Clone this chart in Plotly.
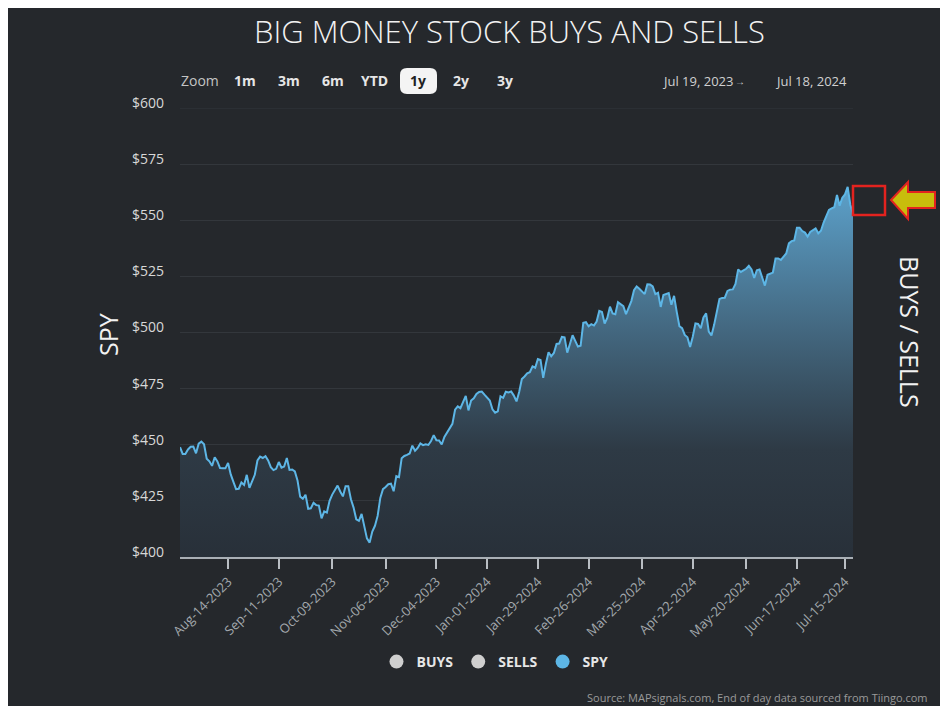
import pandas as pd
import plotly.graph_objects as go

# SPY daily closes (end of day, dividend adjusted), one list per month
jul_2023 = [448.9, 445.9, 445.9, 447.9, 449.1, 449.2, 446.2, 450.5, 451.4]
aug_2023 = [450.2, 443.8, 442.6, 440.6, 444.4, 442.6, 439.6, 439.5, 439.5, 441.9, 436.8, 433.5,
            430.2, 430.4, 433.2, 432.1, 436.6, 430.8, 433.9, 436.6, 443.0, 444.7, 444.1]
sep_2023 = [444.9, 443.0, 440.0, 438.7, 439.3, 442.3, 439.8, 440.3, 444.1, 438.8, 439.0, 438.1,
            434.1, 426.9, 425.9, 427.7, 421.5, 421.7, 424.1, 423.1]
oct_2023 = [422.9, 417.2, 420.3, 419.8, 425.0, 427.8, 430.0, 431.8, 429.2, 427.0, 431.5, 431.5,
            425.7, 422.0, 416.8, 416.1, 419.2, 413.3, 408.3, 406.4, 411.3, 413.9]
nov_2023 = [418.3, 426.3, 430.2, 431.2, 432.4, 432.7, 429.3, 436.0, 435.6, 444.0, 445.0, 445.5,
            446.1, 449.6, 447.3, 448.6, 450.6, 449.8, 450.2, 449.9, 451.7]
dec_2023 = [454.3, 452.0, 451.9, 450.1, 453.5, 455.4, 457.2, 459.3, 465.6, 467.1, 466.3, 469.0,
            471.8, 465.3, 469.7, 470.7, 472.6, 473.5, 473.7, 472.3]
jan_2024 = [469.7, 465.8, 464.3, 464.9, 471.6, 470.9, 473.6, 473.3, 473.7, 471.9, 469.3, 473.5,
            479.3, 480.4, 481.8, 482.3, 484.9, 484.3, 488.2, 487.8, 479.8]
feb_2024 = [486.1, 491.2, 489.4, 490.9, 494.9, 495.1, 498.0, 497.8, 491.0, 495.4, 498.8, 496.3,
            493.7, 494.1, 504.3, 504.6, 502.8, 503.7, 503.1, 504.9]
mar_2024 = [509.6, 509.1, 504.0, 506.5, 511.5, 508.5, 508.1, 513.5, 512.7, 511.7, 508.2, 511.2,
            514.0, 518.8, 520.5, 519.5, 518.1, 517.1, 521.5, 521.4]
apr_2024 = [520.5, 517.1, 517.7, 511.4, 516.7, 517.0, 517.6, 512.4, 516.3, 509.2, 502.8, 501.9,
            498.9, 497.9, 493.6, 498.1, 504.0, 503.8, 501.9, 506.7, 508.5, 500.4]
may_2024 = [498.7, 503.4, 509.6, 514.9, 515.4, 515.5, 518.5, 519.1, 519.2, 521.6, 528.1, 527.0,
            527.7, 528.4, 529.7, 528.1, 524.3, 527.7, 528.1, 524.4, 520.9, 525.7]
jun_2024 = [526.1, 526.7, 533.0, 533.0, 532.3, 534.0, 535.2, 539.7, 540.7, 541.0, 546.7, 546.7,
            545.2, 544.5, 542.7, 544.8, 545.5, 546.4, 544.2]
jul_2024 = [545.3, 549.0, 551.5, 554.6, 555.3, 555.8, 561.3, 556.5, 560.0, 561.5, 564.9, 556.9, 552.7]

# market holidays (no trading)
holidays = ["2023-09-04", "2023-11-23", "2023-12-25", "2024-01-01", "2024-01-15",
            "2024-02-19", "2024-03-29", "2024-05-27", "2024-06-19", "2024-07-04"]

tick_dates = ["2023-08-14", "2023-09-11", "2023-10-09", "2023-11-06", "2023-12-04", "2024-01-01",
              "2024-01-29", "2024-02-26", "2024-03-25", "2024-04-22", "2024-05-20", "2024-06-17",
              "2024-07-15"]

y_ticks = [400, 425, 450, 475, 500, 525, 550, 575, 600]
zoom_buttons = ["1m", "3m", "6m", "YTD", "1y", "2y", "3y"]
zoom_button_x = [237, 281, 325, 366, 410, 453, 497]

spy = (jul_2023 + aug_2023 + sep_2023 + oct_2023 + nov_2023 + dec_2023 + jan_2024 + feb_2024
       + mar_2024 + apr_2024 + may_2024 + jun_2024 + jul_2024)
dates = pd.bdate_range("2023-07-19", "2024-07-18", freq="C", holidays=holidays)

BG = "#25282c"
GRID = "#33373c"
FONT = "Open Sans"
W, H = 932, 698
L, R, T, B = 172, 845, 100, 549


def px(x):
    return (x - L) / (R - L)


def py(y):
    return (B - y) / (B - T)


fig = go.Figure()
fig.add_trace(go.Scatter(
    x=dates, y=spy, mode="lines", name="SPY", showlegend=False,
    line=dict(color="#5db6e6", width=2),
    fill="tozeroy",
    fillgradient=dict(type="vertical", start=400, stop=565,
                      colorscale=[[0, "#283039"], [0.29, "#2e3a45"], [0.61, "#43677f"],
                                  [0.97, "#5a9cc4"], [1, "#5c9fc8"]]),
))
for name, color in [("BUYS", "#cfcfcf"), ("SELLS", "#cfcfcf"), ("SPY", "#5db6e6")]:
    fig.add_trace(go.Scatter(x=[None], y=[None], mode="markers", name=name,
                             marker=dict(color=color, size=14)))

annotations = [
    dict(text="BIG MONEY STOCK BUYS AND SELLS", x=px(501), y=py(23),
         font=dict(size=31, color="#f2f2f2", family=FONT, weight=300)),
    dict(text="Zoom", x=px(192), y=py(73), font=dict(size=14, color="#c4c4c4")),
    dict(text="Jul 19, 2023", x=px(689), y=py(73), font=dict(size=13, color="#d0d0d0")),
    dict(text="→", x=px(732), y=py(73), font=dict(size=10, color="#d0d0d0")),
    dict(text="Jul 18, 2024", x=px(803), y=py(73), font=dict(size=13, color="#d0d0d0")),
    dict(text="SPY", x=px(100), y=py(327), textangle=-90, font=dict(size=25, color="#f2f2f2")),
    dict(text="BUYS / SELLS", x=px(902), y=py(324), textangle=90,
         font=dict(size=25, color="#f2f2f2")),
    dict(text="Source: MAPsignals.com, End of day data sourced from Tiingo.com",
         x=px(922), y=py(689), xanchor="right", font=dict(size=11, color="#9a9a9a")),
]
for label, bx in zip(zoom_buttons, zoom_button_x):
    annotations.append(dict(text=label, x=px(bx), y=py(73),
                            font=dict(size=14, color="#222222" if label == "1y" else "#e6e6e6",
                                      weight="bold")))
for a in annotations:
    a.update(xref="paper", yref="paper", showarrow=False, yanchor="middle")
    a.setdefault("xanchor", "center")
    a["font"].setdefault("family", FONT)

# rounded background of the selected "1y" button
x0, x1, y0, y1, r = 392, 429, 60, 86, 7
sel_path = (f"M {px(x0 + r)},{py(y0)} L {px(x1 - r)},{py(y0)} Q {px(x1)},{py(y0)} {px(x1)},{py(y0 + r)} "
            f"L {px(x1)},{py(y1 - r)} Q {px(x1)},{py(y1)} {px(x1 - r)},{py(y1)} "
            f"L {px(x0 + r)},{py(y1)} Q {px(x0)},{py(y1)} {px(x0)},{py(y1 - r)} "
            f"L {px(x0)},{py(y0 + r)} Q {px(x0)},{py(y0)} {px(x0 + r)},{py(y0)} Z")

arrow_path = (f"M {px(883)},{py(192)} L {px(900)},{py(174)} L {px(900)},{py(184)} "
              f"L {px(927)},{py(184)} L {px(927)},{py(200)} L {px(900)},{py(200)} "
              f"L {px(900)},{py(211)} Z")

shapes = [
    # top gridline at $600 (plotly skips the one on the plot edge)
    dict(type="line", xref="paper", yref="y", x0=0, x1=1, y0=y_ticks[-1], y1=y_ticks[-1],
         line=dict(color=GRID, width=1), layer="below"),
    dict(type="path", path=sel_path, xref="paper", yref="paper",
         fillcolor="#f4f4f4", line=dict(width=0)),
    dict(type="rect", xref="paper", yref="paper", x0=px(845), x1=px(877), y0=py(207), y1=py(178),
         line=dict(color="#e3231f", width=2.5)),
    dict(type="path", path=arrow_path, xref="paper", yref="paper",
         fillcolor="#c8bd0c", line=dict(color="#e3231f", width=2)),
]

fig.update_layout(
    width=W, height=H,
    margin=dict(l=L, r=W - R, t=T, b=H - B),
    paper_bgcolor=BG, plot_bgcolor=BG,
    font=dict(family=FONT, color="#d8d8d8"),
    annotations=annotations,
    shapes=shapes,
    showlegend=True,
    legend=dict(orientation="h", x=px(487), xanchor="center", y=py(654), yanchor="middle",
                font=dict(size=14, color="#e6e6e6", family=FONT, weight="bold"),
                bgcolor="rgba(0,0,0,0)"),
    hovermode="x",
)
# Jan 1 stays on the axis so its tick label is kept
axis_breaks = [d for d in holidays if d != "2024-01-01"]
fig.update_xaxes(
    range=[dates[0], dates[-1]],
    rangebreaks=[dict(bounds=["sat", "mon"]), dict(values=axis_breaks)],
    tickmode="array", tickvals=tick_dates,
    ticktext=[pd.Timestamp(d).strftime("%b-%d-%Y") for d in tick_dates],
    tickangle=-45, tickfont=dict(size=13, color="#a3a8ad"),
    ticks="outside", ticklen=10, tickwidth=1.5, tickcolor="#b9bec3",
    showline=True, linecolor="#a9afb5", linewidth=2,
    showgrid=False, zeroline=False,
)
fig.update_yaxes(
    range=[400, 600], tickmode="array", tickvals=y_ticks,
    ticktext=[f"${v}" for v in y_ticks],
    tickfont=dict(size=14, color="#d8d8d8"),
    ticklabelstandoff=15, ticklabelshift=-5,
    showgrid=True, gridcolor=GRID, gridwidth=1,
    zeroline=False, showline=False,
)

fig.write_html("out.html")
